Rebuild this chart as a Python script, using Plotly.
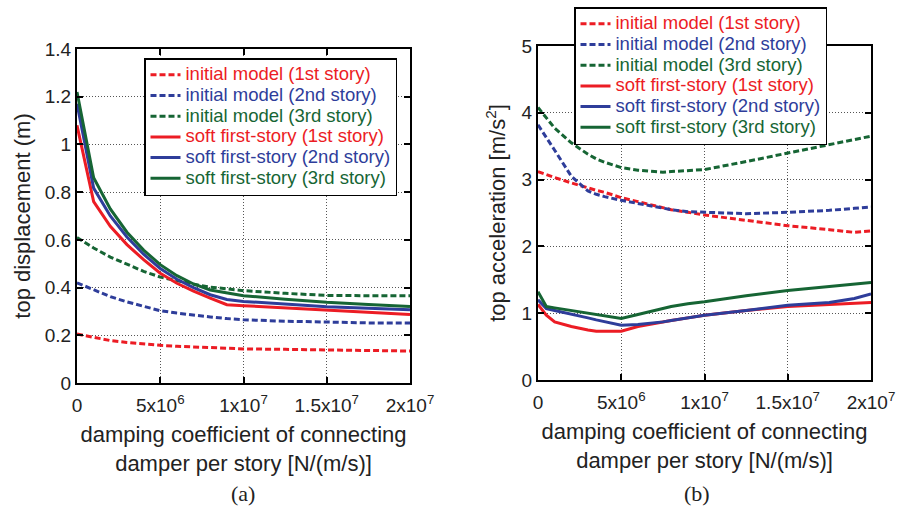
import plotly.graph_objects as go

# ---------------- data ----------------
x_disp = [0, 1e6, 2e6, 3e6, 4e6, 5e6, 6e6, 7e6, 8e6, 9e6, 1e7, 1.25e7, 1.5e7, 1.75e7, 2e7]
disp_init_1 = [0.205, 0.190, 0.178, 0.170, 0.163, 0.158, 0.154, 0.151, 0.148, 0.146, 0.143, 0.141, 0.139, 0.136, 0.134]
disp_init_2 = [0.420, 0.390, 0.362, 0.340, 0.320, 0.303, 0.293, 0.284, 0.277, 0.270, 0.265, 0.259, 0.254, 0.252, 0.251]
disp_init_3 = [0.610, 0.566, 0.528, 0.497, 0.468, 0.444, 0.428, 0.414, 0.402, 0.394, 0.387, 0.376, 0.367, 0.366, 0.366]
disp_soft_1 = [1.080, 0.760, 0.657, 0.580, 0.517, 0.460, 0.418, 0.385, 0.356, 0.328, 0.324, 0.314, 0.305, 0.296, 0.287]
disp_soft_2 = [1.170, 0.817, 0.700, 0.612, 0.540, 0.480, 0.435, 0.400, 0.370, 0.350, 0.342, 0.331, 0.320, 0.313, 0.307]
disp_soft_3 = [1.220, 0.860, 0.730, 0.632, 0.557, 0.496, 0.450, 0.415, 0.390, 0.377, 0.366, 0.351, 0.338, 0.329, 0.321]

x_acc = [0, 5e5, 1e6, 2e6, 3e6, 3.5e6, 4e6, 5e6, 6e6, 7e6, 7.5e6, 8e6, 9e6, 1e7, 1.25e7, 1.5e7, 1.75e7, 1.9e7, 2e7]
acc_init_1 = [3.12, 3.07, 3.03, 2.95, 2.87, 2.84, 2.81, 2.73, 2.67, 2.61, 2.58, 2.55, 2.51, 2.47, 2.39, 2.31, 2.25, 2.21, 2.23]
acc_init_2 = [3.82, 3.62, 3.44, 3.05, 2.83, 2.78, 2.745, 2.69, 2.64, 2.59, 2.57, 2.55, 2.52, 2.51, 2.49, 2.51, 2.54, 2.57, 2.59]
acc_init_3 = [4.08, 3.92, 3.77, 3.55, 3.38, 3.31, 3.26, 3.18, 3.14, 3.12, 3.11, 3.12, 3.13, 3.15, 3.27, 3.40, 3.52, 3.60, 3.65]
acc_soft_1 = [1.13, 0.97, 0.87, 0.80, 0.75, 0.73, 0.73, 0.73, 0.80, 0.85, 0.87, 0.89, 0.93, 0.97, 1.04, 1.10, 1.13, 1.15, 1.16]
acc_soft_2 = [1.20, 1.07, 1.04, 0.99, 0.93, 0.90, 0.87, 0.82, 0.83, 0.85, 0.87, 0.89, 0.93, 0.97, 1.04, 1.12, 1.16, 1.22, 1.29]
acc_soft_3 = [1.32, 1.10, 1.08, 1.04, 1.00, 0.98, 0.96, 0.92, 0.98, 1.04, 1.07, 1.10, 1.14, 1.17, 1.26, 1.34, 1.40, 1.44, 1.46]

names = ["initial model (1st story)", "initial model (2nd story)", "initial model (3rd story)",
         "soft first-story (1st story)", "soft first-story (2nd story)", "soft first-story (3rd story)"]
colors = ["#ec1c24", "#2e3d9a", "#166534", "#ec1c24", "#2e3d9a", "#166534"]
dashes = ["6px,3px", "6px,3px", "6px,3px", "solid", "solid", "solid"]

x_tickvals = [0, 5e6, 1e7, 1.5e7, 2e7]
x_ticktext = ["0", "5x10<sup>6</sup>", "1x10<sup>7</sup>", "1.5x10<sup>7</sup>", "2x10<sup>7</sup>"]
disp_yticks = [0, 0.2, 0.4, 0.6, 0.8, 1.0, 1.2, 1.4]
disp_yticktext = ["0", "0.2", "0.4", "0.6", "0.8", "1", "1.2", "1.4"]
acc_yticks = [0, 1, 2, 3, 4, 5]

FONT = "Liberation Sans, Arial, sans-serif"

fig = go.Figure()

disp_series = [disp_init_1, disp_init_2, disp_init_3, disp_soft_1, disp_soft_2, disp_soft_3]
acc_series = [acc_init_1, acc_init_2, acc_init_3, acc_soft_1, acc_soft_2, acc_soft_3]

for i, ys in enumerate(disp_series):
    fig.add_trace(go.Scatter(
        x=x_disp, y=ys, mode="lines", xaxis="x", yaxis="y",
        line=dict(color=colors[i], width=3, dash=dashes[i]),
        name='<span style="color:%s;font-size:18.5px">%s</span>' % (colors[i], names[i]),
        legend="legend", showlegend=True))

for i, ys in enumerate(acc_series):
    fig.add_trace(go.Scatter(
        x=x_acc, y=ys, mode="lines", xaxis="x2", yaxis="y2",
        line=dict(color=colors[i], width=3, dash=dashes[i]),
        name='<span style="color:%s;font-size:18.5px">%s</span>' % (colors[i], names[i]),
        legend="legend2", showlegend=True))

axis_common = dict(
    showline=True, linecolor="black", linewidth=2, mirror="ticks",
    ticks="inside", ticklen=6, tickwidth=2, tickcolor="black",
    showgrid=True, gridcolor="#555555", gridwidth=1, griddash="1px,2px",
    zeroline=False, automargin=False,
    tickfont=dict(family=FONT, size=19, color="#222"),
)

xtitle = "damping coefficient of connecting<br>damper per story [N/(m/s)]"

fig.update_layout(
    width=901, height=512,
    margin=dict(l=0, r=0, t=0, b=0, autoexpand=False),
    paper_bgcolor="white", plot_bgcolor="white",
    font=dict(family=FONT, size=18, color="#222"),
    xaxis=dict(domain=[77/901, 410/901], range=[0, 2e7], anchor="y",
               tickvals=x_tickvals, ticktext=x_ticktext, ticklabelstandoff=4,
               title=dict(text=xtitle, font=dict(size=22, family=FONT), standoff=12),
               **axis_common),
    yaxis=dict(domain=[1-383/512, 1-49/512], range=[0, 1.4], anchor="x",
               tickvals=disp_yticks, ticktext=disp_yticktext,
               title=dict(text="top displacement (m)", font=dict(size=22, family=FONT), standoff=8),
               **axis_common),
    xaxis2=dict(domain=[538/901, 871/901], range=[0, 2e7], anchor="y2",
                tickvals=x_tickvals, ticktext=x_ticktext, ticklabelstandoff=4,
                title=dict(text=xtitle, font=dict(size=22, family=FONT), standoff=12),
                **axis_common),
    yaxis2=dict(domain=[1-380/512, 1-46/512], range=[0, 5], anchor="x2",
                tickvals=acc_yticks,
                title=dict(text="top acceleration [m/s<sup>2</sup>]", font=dict(size=22, family=FONT), standoff=10),
                **axis_common),
    legend=dict(x=144/901, y=1-58/512, xanchor="left", yanchor="top",
                bgcolor="white", bordercolor="black", borderwidth=1.5,
                font=dict(family=FONT, size=13.6), itemwidth=30, tracegroupgap=0),
    legend2=dict(x=574/901, y=1-7/512, xanchor="left", yanchor="top",
                 bgcolor="white", bordercolor="black", borderwidth=1.5,
                 font=dict(family=FONT, size=13.6), itemwidth=30, tracegroupgap=0),
    annotations=[
        dict(text="(a)", x=243/901, y=1-493/512, xref="paper", yref="paper",
             xanchor="center", yanchor="middle",
             showarrow=False, font=dict(family="Liberation Serif, Times New Roman, serif", size=22, color="#222")),
        dict(text="(b)", x=697/901, y=1-493/512, xref="paper", yref="paper",
             xanchor="center", yanchor="middle",
             showarrow=False, font=dict(family="Liberation Serif, Times New Roman, serif", size=22, color="#222")),
    ],
)

fig.write_html("out.html")
